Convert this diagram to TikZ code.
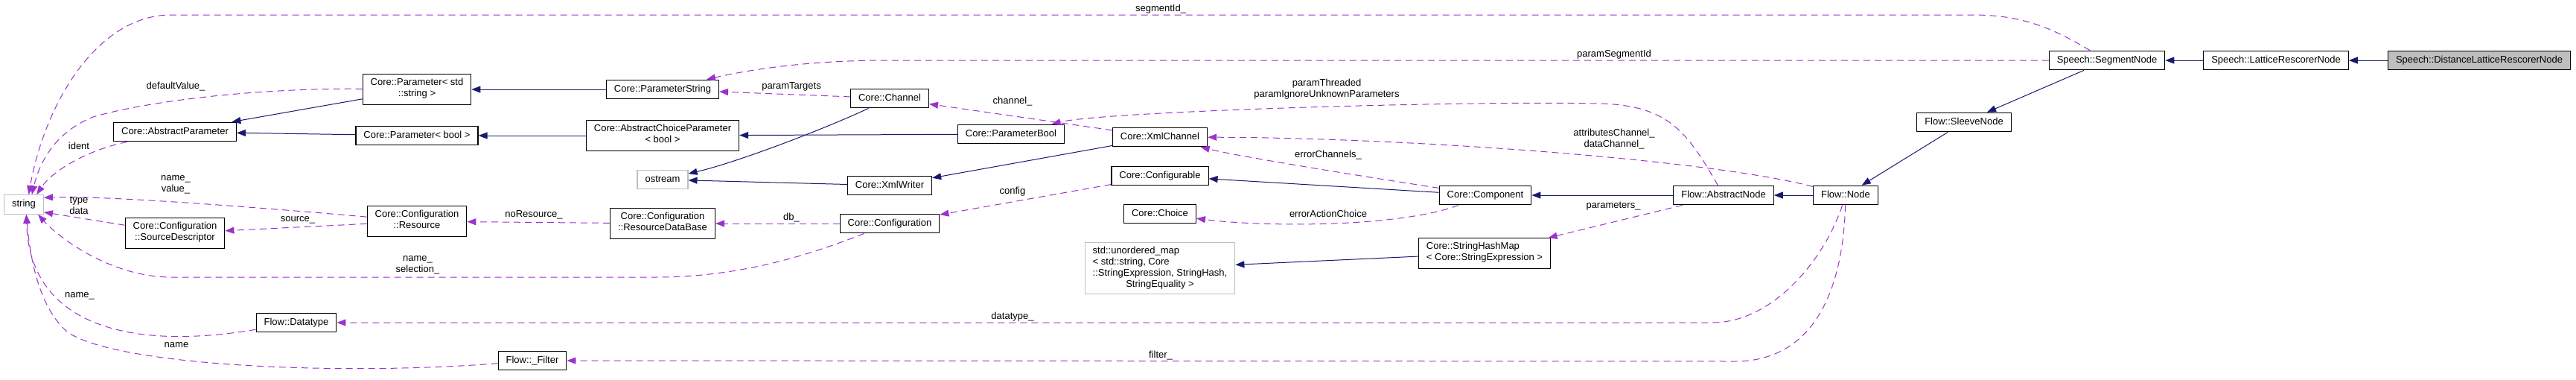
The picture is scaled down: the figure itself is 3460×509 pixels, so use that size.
\documentclass[tikz,border=0pt]{standalone}
\usepackage{fontspec}
\setmainfont{Liberation Sans}
\usepackage{xcolor}
\usetikzlibrary{arrows.meta}

\definecolor{inhblue}{HTML}{191970}
\definecolor{usepurple}{HTML}{9A32CD}
\definecolor{extgray}{HTML}{BFBFBF}

\tikzset{
  cls/.style={draw=black, line width=1.1pt, fill=white, inner xsep=10.5pt, inner ysep=0pt,
    minimum height=25.7pt, font=\fontsize{13}{15}\selectfont, align=center,
    execute at begin node=\strut},
  ext/.style={cls, draw=extgray},
  twoline/.style={minimum height=40.5pt},
  lbl/.style={font=\fontsize{13}{15}\selectfont, align=center, inner sep=0pt},
  inherit/.style={color=inhblue, line width=1pt, -{Triangle[length=12pt,width=9pt]}},
  usage/.style={color=usepurple, line width=1pt, dash pattern=on 9pt off 6pt,
    -{Triangle[length=12pt,width=9pt]}},
}

\begin{document}
\begin{tikzpicture}[x=1pt,y=-1pt]
\useasboundingbox (0,0) rectangle (3460,509);

% classes
\node[ext] (str) at (32,274.5) {string};
\node[cls] (absparam) at (235,177) {Core::AbstractParameter};
\node[cls, twoline] (srcdesc) at (235,313) {Core::Configuration\\::SourceDescriptor};
\node[cls] (datatype) at (398,433) {Flow::Datatype};
\node[cls, twoline] (parstr) at (560,120) {Core::Parameter< std\\::string >};
\node[cls] (parbool) at (560,182) {Core::Parameter< bool >};
\node[cls, twoline] (resource) at (560,297) {Core::Configuration\\::Resource};
\node[cls] (pstring) at (890,120) {Core::ParameterString};
\node[cls, twoline] (achoice) at (890,182) {Core::AbstractChoiceParameter\\< bool >};
\node[ext] (ostream) at (890,241) {ostream};
\node[cls, twoline] (resdb) at (890,300) {Core::Configuration\\::ResourceDataBase};
\node[cls] (filter) at (715,484) {Flow::\_Filter};
\node[cls] (channel) at (1195,132) {Core::Channel};
\node[cls] (pbool) at (1358,180) {Core::ParameterBool};
\node[cls] (xmlch) at (1558,184) {Core::XmlChannel};
\node[cls] (xmlwr) at (1195,249) {Core::XmlWriter};
\node[cls] (configurable) at (1558,236) {Core::Configurable};
\node[cls] (config) at (1195,300) {Core::Configuration};
\node[cls] (choice) at (1558,287) {Core::Choice};
\node[ext, minimum height=69pt, execute at begin node={}] (umap) at (1558,360)
  {\begin{tabular}{@{}l@{}}std::unordered\_map\\< std::string, Core\\::StringExpression, StringHash,\\
   \multicolumn{1}{@{}c@{}}{StringEquality >}\end{tabular}};
\node[cls] (component) at (1995,262) {Core::Component};
\node[cls, twoline, align=left] (shmap) at (1994,340) {Core::StringHashMap\\< Core::StringExpression >};
\node[cls] (absnode) at (2315,262) {Flow::AbstractNode};
\node[cls] (fnode) at (2479,262) {Flow::Node};
\node[cls] (sleeve) at (2638,164) {Flow::SleeveNode};
\node[cls] (segnode) at (2830,81) {Speech::SegmentNode};
\node[cls] (latnode) at (3057,81) {Speech::LatticeRescorerNode};
\node[cls, fill=extgray] (distnode) at (3330,81) {Speech::DistanceLatticeRescorerNode};

% inheritance
\draw[inherit] (distnode) -- (latnode);
\draw[inherit] (latnode) -- (segnode);
\draw[inherit] (segnode) -- (sleeve);
\draw[inherit] (sleeve) -- (fnode);
\draw[inherit] (fnode) -- (absnode);
\draw[inherit] (absnode) -- (component);
\draw[inherit] (component) -- (configurable);
\draw[inherit] (xmlch) -- (xmlwr);
\draw[inherit] (xmlwr) -- (ostream);
\draw[inherit] (channel) .. controls (1110,172) and (990,218) .. (ostream);
\draw[inherit] (pbool) -- (achoice);
\draw[inherit] (achoice) -- (parbool);
\draw[inherit] (parbool) -- (absparam);
\draw[inherit] (pstring) -- (parstr);
\draw[inherit] (parstr) -- (absparam);
\draw[inherit] (shmap) -- (umap);

% members
\draw[usage] (segnode) .. controls (2760,40) and (2720,20) .. (2650,20) -- (230,20)
  .. controls (130,20) and (60,140) .. (str.64);
\draw[usage] (segnode) -- (1190,81) .. controls (1080,81) and (1000,95) .. (pstring);
\draw[usage] (channel) -- (pstring);
\draw[usage] (xmlch) -- (channel);
\draw[usage] (absnode) .. controls (2265,175) and (2240,142) .. (2150,139)
  .. controls (1950,135) and (1480,150) .. (pbool);
\draw[usage] (fnode) .. controls (2300,215) and (1900,185) .. (xmlch);
\draw[usage] (component) .. controls (1800,232) and (1660,209) .. (xmlch);
\draw[usage] (configurable) -- (config);
\draw[usage] (component) .. controls (1880,305) and (1700,305) .. (choice);
\draw[usage] (absnode) -- (shmap);
\draw[usage] (fnode) .. controls (2450,350) and (2380,433) .. (2300,433) -- (datatype);
\draw[usage] (fnode) .. controls (2475,400) and (2430,485) .. (2330,485) -- (filter);
\draw[usage] (config) -- (resdb);
\draw[usage] (resdb) -- (resource);
\draw[usage] (resource) -- (srcdesc);
\draw[usage] (resource) .. controls (400,283) and (150,262) .. (str.19);
\draw[usage] (srcdesc) -- (str.339);
\draw[usage] (absparam) .. controls (115,202) and (70,230) .. (str.38);
\draw[usage] (parstr) .. controls (350,118) and (200,135) .. (125,157)
  .. controls (80,175) and (55,210) .. (str.51);
\draw[usage] (config) .. controls (1080,345) and (990,372) .. (880,372) -- (230,372)
  .. controls (150,372) and (80,320) .. (str.325);
\draw[usage] (datatype) .. controls (180,470) and (40,440) .. (str.284);
\draw[usage] (filter) .. controls (450,505) and (150,490) .. (90,445)
  .. controls (50,410) and (40,340) .. (str.284);

% labels
\node[lbl] (lsegid) at (1559,12) {segmentId\_};
\node[lbl] (lpsegid) at (2168,73) {paramSegmentId};
\node[lbl] (ltargets) at (1063,116) {paramTargets};
\node[lbl] (lthreaded) at (1782,120) {paramThreaded\\paramIgnoreUnknownParameters};
\node[lbl] (lchan) at (1360,136) {channel\_};
\node[lbl] (lattr) at (2168,187) {attributesChannel\_\\dataChannel\_};
\node[lbl] (lerrch) at (1784,208) {errorChannels\_};
\node[lbl] (lconfig) at (1360,257) {config};
\node[lbl] (lerrac) at (1784,287) {errorActionChoice};
\node[lbl] (lparams) at (2167,277) {parameters\_};
\node[lbl] (ldtype) at (1360,425) {datatype\_};
\node[lbl] (lfilter) at (1559,477) {filter\_};
\node[lbl] (ldb) at (1063,292) {db\_};
\node[lbl] (lnores) at (717,288) {noResource\_};
\node[lbl] (lsource) at (400,295) {source\_};
\node[lbl] (lnameval) at (236,248) {name\_\\value\_};
\node[lbl] (ltypedata) at (106,276) {type\\data};
\node[lbl] (lident) at (106,196) {ident};
\node[lbl] (ldefval) at (236,116) {defaultValue\_};
\node[lbl] (lnamesel) at (561,356) {name\_\\selection\_};
\node[lbl] (lname1) at (107,397) {name\_};
\node[lbl] (lname2) at (237,463) {name};

\end{tikzpicture}
\end{document}
